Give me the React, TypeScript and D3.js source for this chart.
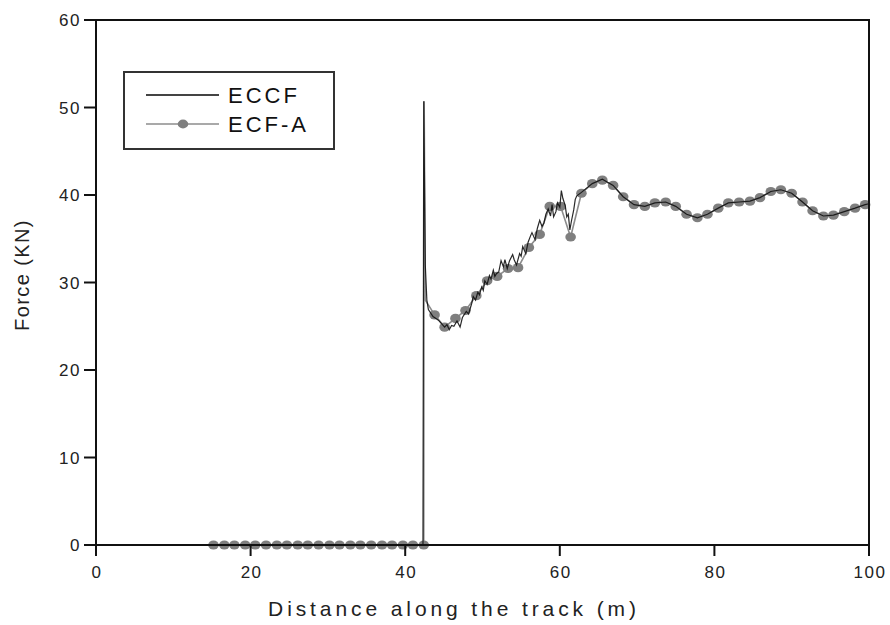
import React, { useEffect, useRef } from 'react';
import * as d3 from 'd3';

// x ticks / y ticks
const xTicks = [0, 20, 40, 60, 80, 100];
const yTicks = [0, 10, 20, 30, 40, 50, 60];

// ECF-A markers (every ~1.36 m)
const ecfaX = [
  15.2, 16.6, 17.9, 19.3, 20.6, 22.0, 23.4, 24.7, 26.1, 27.4, 28.8, 30.2, 31.5, 32.9, 34.2, 35.6,
  37.0, 38.3, 39.7, 41.0, 42.4, 43.8, 45.1, 46.5, 47.8, 49.2, 50.6, 51.9, 53.3, 54.6, 56.0, 57.4,
  58.7, 60.1, 61.4, 62.8, 64.2, 65.5, 66.9, 68.2, 69.6, 71.0, 72.3, 73.7, 75.0, 76.4, 77.8, 79.1,
  80.5, 81.8, 83.2, 84.6, 85.9, 87.3, 88.6, 90.0, 91.4, 92.7, 94.1, 95.4, 96.8, 98.2, 99.5,
];
const ecfaY = [
  0, 0, 0, 0, 0, 0, 0, 0, 0, 0, 0, 0, 0, 0, 0, 0,
  0, 0, 0, 0, 0, 26.3, 24.9, 25.9, 26.8, 28.5, 30.2, 30.7, 31.6, 31.7, 34.0, 35.5,
  38.7, 38.7, 35.2, 40.2, 41.3, 41.7, 41.1, 39.8, 38.9, 38.7, 39.1, 39.2, 38.7, 37.8, 37.4, 37.8,
  38.5, 39.1, 39.2, 39.3, 39.7, 40.4, 40.6, 40.2, 39.2, 38.2, 37.6, 37.7, 38.1, 38.5, 38.9,
];
// the ECF-A line also climbs the impact spike between its markers
const ecfaSpikeX = [42.45, 42.6];
const ecfaSpikeY = [50.7, 28.0];

// ECCF (measured), finer sampling
const eccfX = [
  15.2, 42.3, 42.4, 42.6, 42.8, 43.0, 43.6, 44.3, 44.7, 45.1, 45.4, 45.7, 46.0, 46.3, 46.7, 47.1,
  47.4, 47.9, 48.2, 48.6, 48.8, 49.1, 49.4, 49.6, 49.9, 50.1, 50.3, 50.6, 50.9, 51.1, 51.4, 51.6,
  51.8, 52.1, 52.4, 52.7, 52.9, 53.2, 53.5, 53.9, 54.1, 54.4, 54.8, 55.0, 55.2, 55.6, 55.9, 56.2,
  56.4, 56.8, 57.1, 57.4, 57.7, 57.95, 58.2, 58.5, 58.8, 59.0, 59.2, 59.5, 59.7, 60.0, 60.2, 60.4,
  60.7, 60.9, 61.1, 61.3, 61.5, 61.8, 62.0, 62.2, 62.8, 64.2, 65.5, 66.9, 68.2, 69.6, 71.0, 72.3,
  73.7, 75.0, 76.4, 77.8, 79.1, 80.5, 81.8, 83.2, 84.6, 85.9, 87.3, 88.6, 90.0, 91.4, 92.7, 94.1,
  95.4, 96.8, 98.2, 99.5, 100,
];
const eccfY = [
  0, 0, 50.7, 32.0, 28.0, 26.9, 26.1, 25.7, 25.3, 24.9, 25.2, 24.6, 25.1, 25.0, 25.6, 24.9,
  26.0, 26.7, 26.4, 27.6, 28.4, 28.0, 28.9, 28.6, 29.5, 29.1, 30.2, 29.8, 30.8, 30.4, 31.4, 30.7,
  31.0, 31.2, 32.5, 31.8, 32.6, 31.6, 32.5, 33.2, 32.6, 32.0, 33.3, 33.0, 34.1, 33.3, 34.6, 35.3,
  35.7, 34.9, 36.2, 37.1, 36.4, 36.8, 37.8, 38.4, 37.6, 38.9, 37.5, 38.1, 39.1, 38.6, 40.5, 39.6,
  38.8, 37.5, 37.8, 36.0, 37.0, 38.3, 39.5, 39.9, 40.3, 41.3, 41.8, 41.1, 39.8, 38.9, 38.7, 39.1,
  39.2, 38.7, 37.8, 37.4, 37.8, 38.5, 39.1, 39.2, 39.3, 39.7, 40.4, 40.6, 40.2, 39.2, 38.2, 37.6,
  37.7, 38.1, 38.5, 38.9, 39.0,
];

const W = 890;
const H = 625;
const FONT = "'Liberation Sans', Arial, sans-serif";

function ForceChart() {
  const ref = useRef<SVGSVGElement>(null);

  useEffect(() => {
    const svg = d3.select(ref.current);
    svg.selectAll('*').remove();

    const x = d3.scaleLinear().domain([0, 100]).range([96, 869]);
    const y = d3.scaleLinear().domain([0, 60]).range([545, 20]);

    svg.append('rect').attr('width', W).attr('height', H).attr('fill', '#fff');

    // ECF-A line (grey), spike inserted after the marker at 42.4
    const ecfaPts: [number, number][] = [];
    ecfaX.forEach((v, i) => {
      ecfaPts.push([v, ecfaY[i]]);
      if (i === 20) ecfaSpikeX.forEach((s, j) => ecfaPts.push([s, ecfaSpikeY[j]]));
    });
    const line = d3.line<[number, number]>().x(d => x(d[0])).y(d => y(d[1]));

    svg.append('path')
      .attr('d', line(ecfaPts))
      .attr('fill', 'none')
      .attr('stroke', '#8c8c8c')
      .attr('stroke-width', 1.6);

    // ECF-A markers
    svg.append('g')
      .selectAll('ellipse')
      .data(ecfaX.map((v, i) => [v, ecfaY[i]]))
      .join('ellipse')
      .attr('cx', d => x(d[0]))
      .attr('cy', d => y(d[1]))
      .attr('rx', 5.3)
      .attr('ry', 4.6)
      .attr('fill', '#7f7f7f');

    // ECCF line (black) drawn on top, as in the original
    const eccfPts: [number, number][] = eccfX.map((v, i) => [v, eccfY[i]]);
    svg.append('path')
      .attr('d', line(eccfPts))
      .attr('fill', 'none')
      .attr('stroke', '#111')
      .attr('stroke-width', 1.2)
      .attr('stroke-opacity', 0.9);

    // frame
    const frame = svg.append('g').attr('stroke', '#111').attr('stroke-width', 2).attr('fill', 'none');
    frame.append('rect')
      .attr('x', x(0)).attr('y', y(60))
      .attr('width', x(100) - x(0)).attr('height', y(0) - y(60));

    // y axis ticks
    const yAxis = svg.append('g');
    yTicks.forEach(t => {
      yAxis.append('line')
        .attr('x1', x(0) - 12).attr('x2', x(0))
        .attr('y1', y(t)).attr('y2', y(t))
        .attr('stroke', '#111').attr('stroke-width', 2);
      yAxis.append('text')
        .attr('x', x(0) - 15).attr('y', y(t))
        .attr('dy', '0.36em')
        .attr('text-anchor', 'end')
        .attr('font-family', FONT)
        .attr('font-size', 17)
        .attr('letter-spacing', 1.5)
        .attr('fill', '#222')
        .text(t);
    });

    // x axis ticks
    const xAxis = svg.append('g');
    xTicks.forEach(t => {
      xAxis.append('line')
        .attr('x1', x(t)).attr('x2', x(t))
        .attr('y1', y(0)).attr('y2', y(0) + 11)
        .attr('stroke', '#111').attr('stroke-width', 2);
      xAxis.append('text')
        .attr('x', x(t) + 1).attr('y', 578)
        .attr('text-anchor', 'middle')
        .attr('font-family', FONT)
        .attr('font-size', 17)
        .attr('letter-spacing', 1.5)
        .attr('fill', '#222')
        .text(t);
    });

    // axis titles
    svg.append('text')
      .attr('x', 454).attr('y', 616)
      .attr('text-anchor', 'middle')
      .attr('font-family', FONT)
      .attr('font-size', 21)
      .attr('letter-spacing', 3.9)
      .attr('fill', '#222')
      .text('Distance along the track (m)');

    svg.append('text')
      .attr('transform', 'translate(29,275) rotate(-90)')
      .attr('text-anchor', 'middle')
      .attr('font-family', FONT)
      .attr('font-size', 20)
      .attr('letter-spacing', 1.4)
      .attr('fill', '#222')
      .text('Force (KN)');

    // legend
    const lg = svg.append('g');
    lg.append('rect')
      .attr('x', 124).attr('y', 72).attr('width', 210).attr('height', 77)
      .attr('fill', '#fff').attr('stroke', '#333').attr('stroke-width', 2);
    lg.append('line')
      .attr('x1', 146).attr('x2', 219).attr('y1', 95).attr('y2', 95)
      .attr('stroke', '#444').attr('stroke-width', 1.8);
    lg.append('line')
      .attr('x1', 146).attr('x2', 219).attr('y1', 124).attr('y2', 124)
      .attr('stroke', '#8c8c8c').attr('stroke-width', 1.4);
    lg.append('ellipse')
      .attr('cx', 183).attr('cy', 124).attr('rx', 5.3).attr('ry', 4.4)
      .attr('fill', '#7f7f7f');
    [['ECCF', 95], ['ECF-A', 124]].forEach(([label, ly]) => {
      lg.append('text')
        .attr('x', 228).attr('y', ly as number)
        .attr('dy', '0.36em')
        .attr('font-family', FONT)
        .attr('font-size', 22)
        .attr('letter-spacing', 3)
        .attr('fill', '#111')
        .text(label as string);
    });
  }, []);

  return (
    <svg
      ref={ref}
      width={W}
      height={H}
      style={{ position: 'absolute', left: 0, top: 0, display: 'block' }}
    />
  );
}

export default function App() {
  return <ForceChart />;
}
